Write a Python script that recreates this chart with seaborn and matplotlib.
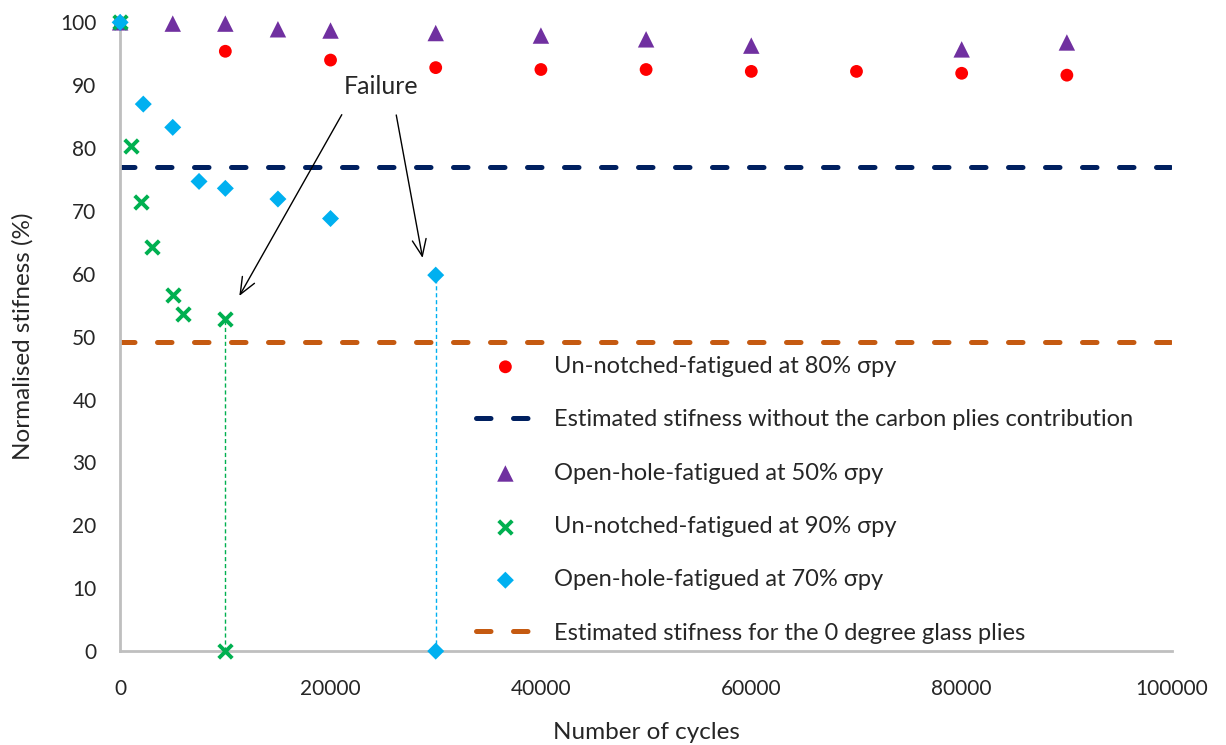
import matplotlib
matplotlib.use("Agg")
import matplotlib.pyplot as plt
import seaborn as sns

# ── Data ─────────────────────────────────────────────────────────────────────
red_x = [0, 10000, 20000, 30000, 40000, 50000, 60000, 70000, 80000, 90000]
red_y = [100, 95.4, 94.0, 92.8, 92.5, 92.5, 92.2, 92.2, 91.9, 91.6]

purple_x = [0, 5000, 10000, 15000, 20000, 30000, 40000, 50000, 60000, 80000, 90000]
purple_y = [100, 99.8, 99.8, 98.9, 98.7, 98.3, 97.9, 97.3, 96.3, 95.7, 96.8]

green_x = [0, 1000, 2000, 3000, 5000, 6000, 10000, 10000]
green_y = [100, 80.3, 71.4, 64.2, 56.6, 53.6, 52.9, 0]

blue_x = [0, 2200, 5000, 7500, 10000, 15000, 20000, 30000, 30000]
blue_y = [100, 87.0, 83.3, 74.7, 73.6, 71.9, 68.8, 59.8, 0]

carbon_level = 77.0   # estimated stiffness without carbon plies
glass_level = 49.2    # estimated stiffness for 0 degree glass plies

green_fail_x, green_fail_y = 10000, 52.9
blue_fail_x, blue_fail_y = 30000, 59.8

labels = ["Un-notched-fatigued at 80% σpy",
          "Estimated stifness without the carbon plies contribution",
          "Open-hole-fatigued at 50% σpy",
          "Un-notched-fatigued at 90% σpy",
          "Open-hole-fatigued at 70% σpy",
          "Estimated stifness for the 0 degree glass plies"]

# ── Style ────────────────────────────────────────────────────────────────────
sns.set_style("white")
plt.rcParams["font.family"] = ["Lato", "DejaVu Sans"]

fig = plt.figure(figsize=(12.26, 7.45), dpi=100)
ax = fig.add_axes([0.098, 0.126, 0.858, 0.844])

c_red, c_purple, c_green, c_blue = "#ff0000", "#7030a0", "#00b050", "#00b0f0"
c_navy, c_orange = "#002060", "#c55a11"
dash = (0, (2.9, 4.5))

# failure drop lines
ax.plot([green_fail_x, green_fail_x], [0, green_fail_y], ls=(0, (3, 2)),
        lw=1, color=c_green, zorder=1)
ax.plot([blue_fail_x, blue_fail_x], [0, blue_fail_y], ls=(0, (3, 2)),
        lw=1, color=c_blue, zorder=1)

sns.scatterplot(x=red_x, y=red_y, ax=ax, color=c_red, marker="o", s=85,
                edgecolor="none", label=labels[0], zorder=3, clip_on=False)
ax.axhline(carbon_level, color=c_navy, lw=3.6, ls=dash, dash_capstyle="round",
           label=labels[1], zorder=2)
sns.scatterplot(x=purple_x, y=purple_y, ax=ax, color=c_purple, marker="^", s=140,
                edgecolor="none", label=labels[2], zorder=3, clip_on=False)
sns.scatterplot(x=green_x, y=green_y, ax=ax, color=c_green, marker="x", s=95,
                linewidth=2.8, label=labels[3], zorder=3, clip_on=False)
sns.scatterplot(x=blue_x, y=blue_y, ax=ax, color=c_blue, marker="D", s=75,
                edgecolor="none", label=labels[4], zorder=4, clip_on=False)
ax.axhline(glass_level, color=c_orange, lw=3.6, ls=dash, dash_capstyle="round",
           label=labels[5], zorder=2)

# annotation
ax.text(24800, 89.8, "Failure", fontsize=18, ha="center", va="center")
ax.annotate("", xy=(11200, 56.1), xytext=(21200, 85.7),
            arrowprops=dict(arrowstyle="->,head_length=1.2,head_width=0.5",
                            color="black", lw=1))
ax.annotate("", xy=(28800, 62.1), xytext=(26200, 85.7),
            arrowprops=dict(arrowstyle="->,head_length=1.2,head_width=0.5",
                            color="black", lw=1))

ax.set_xlim(0, 100000)
ax.set_ylim(0, 100)
ax.set_xticks(range(0, 100001, 20000))
ax.set_yticks(range(0, 101, 10))
ax.tick_params(labelsize=15, length=0)
ax.tick_params(axis="y", pad=17)
ax.tick_params(axis="x", pad=20)
ax.set_xlabel("Number of cycles", fontsize=17.5, labelpad=16.5)
ax.set_ylabel("Normalised stifness (%)", fontsize=17.5, labelpad=19)
sns.despine(ax=ax)
for sp in ["left", "bottom"]:
    ax.spines[sp].set_color("#bfbfbf")
    ax.spines[sp].set_linewidth(2)

ax.legend(loc="upper left", bbox_to_anchor=(0.379, 0.538),
          bbox_transform=fig.transFigure, frameon=False, fontsize=17,
          labelspacing=1.37, handlelength=2.45, handletextpad=0.85,
          borderpad=0)

plt.savefig("out.png", dpi=100)
